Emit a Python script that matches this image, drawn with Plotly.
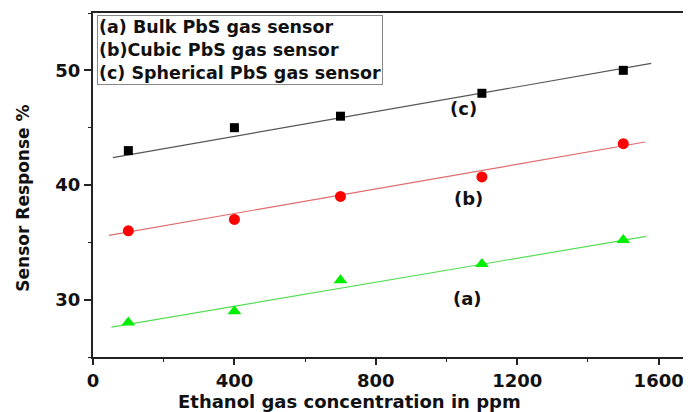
import plotly.graph_objects as go

conc = [100, 400, 700, 1100, 1500]
bulk_a = [28.0, 29.0, 31.7, 33.1, 35.2]
cubic_b = [36.0, 37.0, 39.0, 40.7, 43.6]
spherical_c = [43.0, 45.0, 46.0, 48.0, 50.0]

# fitted line end points
fit_a_x = [52, 1565]
fit_a_y = [27.6, 35.52]
fit_b_x = [45, 1562]
fit_b_y = [35.61, 43.75]
fit_c_x = [56, 1579]
fit_c_y = [42.39, 50.6]

x_ticks = [0, 400, 800, 1200, 1600]
y_ticks = [30, 40, 50]

legend_lines = ["(a) Bulk PbS gas sensor", "(b)Cubic PbS gas sensor", "(c) Spherical PbS gas sensor"]
labels = ["(a)", "(b)", "(c)"]
label_x = [1060, 1063, 1048]
label_y = [30.1, 38.8, 46.7]

FONT = "DejaVu Sans"

fig = go.Figure()
fig.add_trace(go.Scatter(x=fit_a_x, y=fit_a_y, mode="lines", line=dict(color="#55dd55", width=1.2), showlegend=False))
fig.add_trace(go.Scatter(x=fit_b_x, y=fit_b_y, mode="lines", line=dict(color="#e06b6b", width=1.2), showlegend=False))
fig.add_trace(go.Scatter(x=fit_c_x, y=fit_c_y, mode="lines", line=dict(color="#555555", width=1.2), showlegend=False))
fig.add_trace(go.Scatter(x=conc, y=bulk_a, mode="markers", marker=dict(symbol="triangle-up", size=12, color="#00ee00"), showlegend=False))
fig.add_trace(go.Scatter(x=conc, y=cubic_b, mode="markers", marker=dict(symbol="circle", size=11, color="#ff0000"), showlegend=False))
fig.add_trace(go.Scatter(x=conc, y=spherical_c, mode="markers", marker=dict(symbol="square", size=9, color="#000000"), showlegend=False))

for t, lx, ly in zip(labels, label_x, label_y):
    fig.add_annotation(x=lx, y=ly, text="<b>" + t + "</b>", showarrow=False,
                       font=dict(family=FONT, size=18, color="#111111"))

fig.add_annotation(xref="paper", yref="paper", x=0.006, y=0.994, xanchor="left", yanchor="top",
                   text="<br>".join("<b>" + s + "</b>" for s in legend_lines), align="left",
                   showarrow=False, bordercolor="#888888", borderwidth=1, borderpad=1,
                   font=dict(family=FONT, size=17.5, color="#111111"), bgcolor="rgba(255,255,255,0)")

# axis titles
fig.add_annotation(xref="paper", yref="paper", x=0.4305, y=-0.13, xanchor="center", yanchor="middle",
                   text="<b>Ethanol gas concentration in ppm</b>", showarrow=False,
                   font=dict(family=FONT, size=18, color="#111111"))
fig.add_annotation(xref="paper", yref="paper", x=-0.1173, y=0.4608, xanchor="center", yanchor="middle",
                   text="<b>Sensor Response %</b>", showarrow=False, textangle=-90,
                   font=dict(family=FONT, size=17, color="#111111"))

fig.update_xaxes(range=[0, 1683], tickvals=x_ticks, ticktext=["<b>%d</b>" % v for v in x_ticks],
                 ticks="outside", ticklen=6, tickwidth=1.5, tickcolor="#222",
                 minor=dict(dtick=200, ticks="outside", ticklen=3, tickwidth=1.2, tickcolor="#222"),
                 showline=True, linecolor="#222", linewidth=2, mirror=True, showgrid=False, zeroline=False,
                 tickfont=dict(family=FONT, size=18, color="#111"))
fig.update_yaxes(range=[25, 55], tickvals=y_ticks, ticktext=["<b>%d</b>" % v for v in y_ticks],
                 ticks="outside", ticklen=7, tickwidth=1.5, tickcolor="#222",
                 minor=dict(dtick=5, ticks="outside", ticklen=3, tickwidth=1.2, tickcolor="#222"),
                 showline=True, linecolor="#222", linewidth=2, mirror=True, showgrid=False, zeroline=False,
                 tickfont=dict(family=FONT, size=18, color="#111"))

fig.update_layout(width=683, height=404, margin=dict(l=85, r=1, t=5, b=55),
                  plot_bgcolor="white", paper_bgcolor="white")

fig.write_html("out.html")
